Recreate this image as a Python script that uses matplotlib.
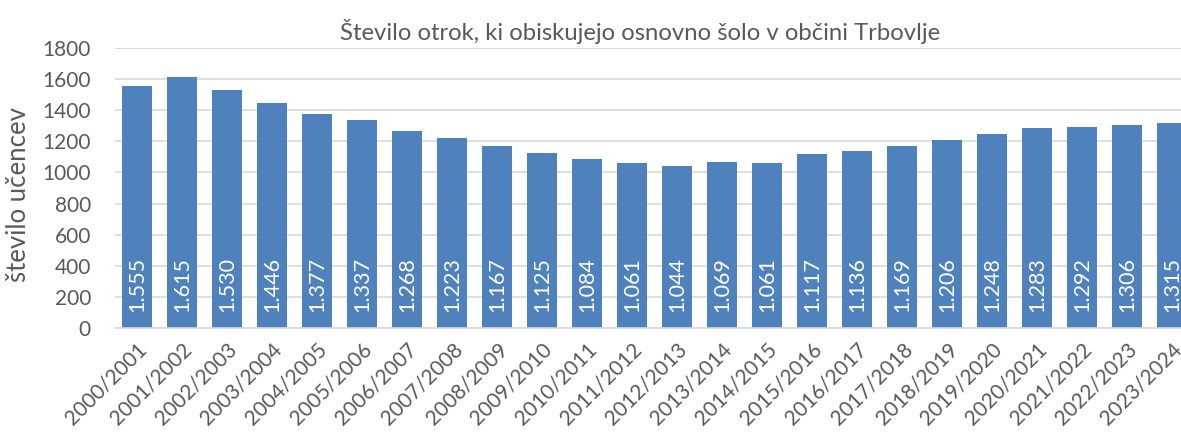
import matplotlib
matplotlib.use("Agg")
import matplotlib.pyplot as plt
import numpy as np

plt.rcParams["font.family"] = ["Lato", "DejaVu Sans"]

# šolska leta in število učencev
years = ["2000/2001", "2001/2002", "2002/2003", "2003/2004", "2004/2005", "2005/2006",
         "2006/2007", "2007/2008", "2008/2009", "2009/2010", "2010/2011", "2011/2012",
         "2012/2013", "2013/2014", "2014/2015", "2015/2016", "2016/2017", "2017/2018",
         "2018/2019", "2019/2020", "2020/2021", "2021/2022", "2022/2023", "2023/2024"]
pupils = [1555, 1615, 1530, 1446, 1377, 1337, 1268, 1223, 1167, 1125, 1084, 1061,
          1044, 1069, 1061, 1117, 1136, 1169, 1206, 1248, 1283, 1292, 1306, 1315]
yticks = [0, 200, 400, 600, 800, 1000, 1200, 1400, 1600, 1800]

blue = "#4F81BD"
grey = "#595959"

fig = plt.figure(figsize=(11.81, 4.34), dpi=100)
ax = fig.add_axes([114.5 / 1181, 106 / 434, 1080 / 1181, 280 / 434])

x = np.arange(len(years))
bars = ax.bar(x, pupils, width=0.667, color=blue, zorder=2)

for xi, v in zip(x, pupils):
    lbl = f"{v:,}".replace(",", ".")
    ax.text(xi, 105, lbl, rotation=90, ha="center", va="bottom",
            color="white", fontsize=15.5, zorder=3)

ax.set_xlim(-0.5, len(years) - 0.5)
ax.set_ylim(0, 1800)
ax.set_yticks(yticks)
ax.set_yticklabels([str(t) for t in yticks], fontsize=15, color=grey)
ax.set_xticks(x)
ax.set_xticklabels(years, rotation=45, ha="right", rotation_mode="anchor",
                   fontsize=15, color=grey)
ax.tick_params(axis="y", length=0, pad=17)
ax.tick_params(axis="x", length=0, pad=8)

ax.grid(axis="y", color="#D9D9D9", linewidth=1.2, zorder=0)
for s in ["top", "right", "left"]:
    ax.spines[s].set_visible(False)
ax.spines["bottom"].set_color("#D9D9D9")
ax.spines["bottom"].set_linewidth(1.2)

fig.text(19 / 1181, 1 - 195 / 434, "število učencev", rotation=90,
         ha="center", va="center", fontsize=18.5, color=grey)
fig.text(640 / 1181, 1 - 32 / 434, "Število otrok, ki obiskujejo osnovno šolo v občini Trbovlje",
         ha="center", va="center", fontsize=17.2, color=grey)

fig.savefig("out.png", dpi=100)
